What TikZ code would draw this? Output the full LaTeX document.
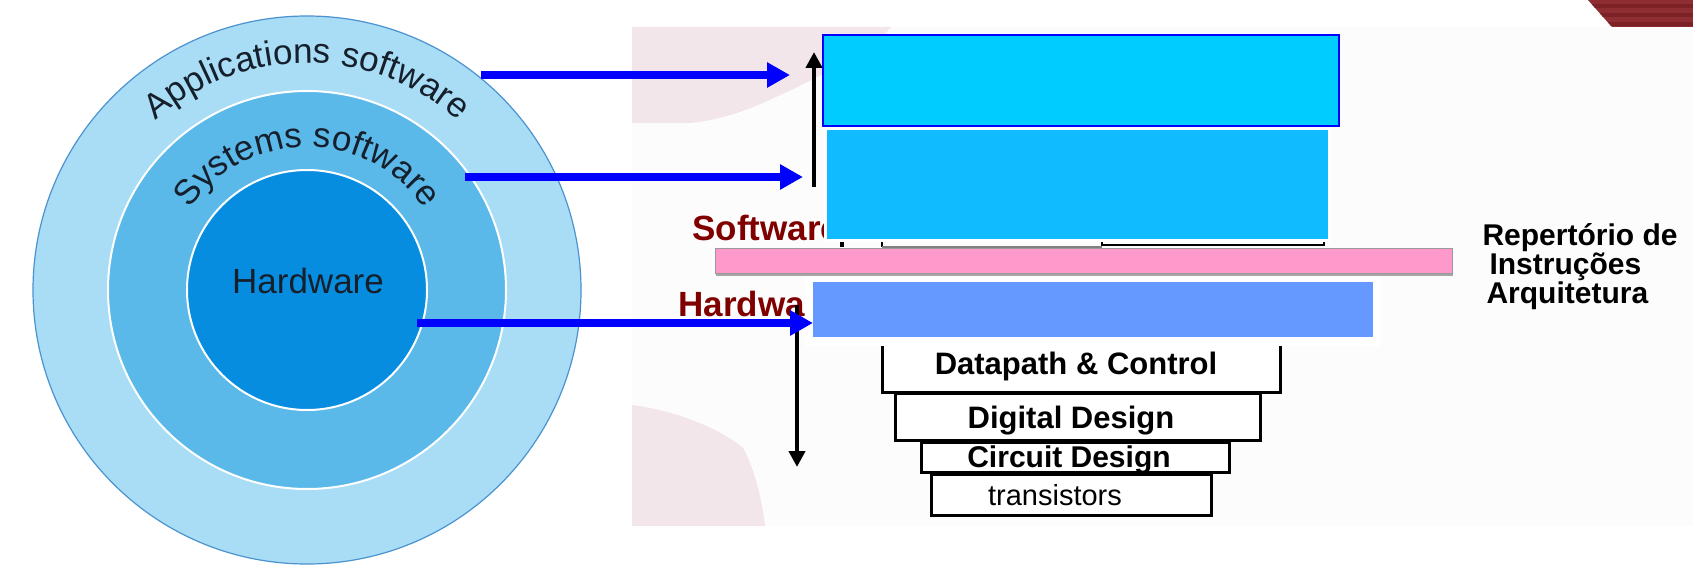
\documentclass[tikz,border=0pt]{standalone}
\usepackage{fontspec}
\setmainfont{Liberation Sans}
\usetikzlibrary{arrows.meta,decorations.text}
\newcommand\pxsize[1]{\fontsize{#1}{#1}\selectfont}

\definecolor{ringout}{HTML}{A9DDF6}
\definecolor{ringmid}{HTML}{5BB9EA}
\definecolor{ringin}{HTML}{078DE0}
\definecolor{ringedge}{HTML}{4A93CF}
\definecolor{ringtext}{HTML}{16202C}
\definecolor{appfill}{HTML}{00CCFF}
\definecolor{sysfill}{HTML}{10BBFF}
\definecolor{hwfill}{HTML}{6699FF}
\definecolor{isafill}{HTML}{FF99CC}
\definecolor{blobpink}{HTML}{F2E6EA}
\definecolor{panelbg}{HTML}{FCFCFC}
\definecolor{labelred}{HTML}{800000}
\definecolor{slidered}{HTML}{8E2E33}
\definecolor{slideredd}{HTML}{7C2227}

\tikzset{
  ring/.style={circle, inner sep=0pt, outer sep=0pt},
  plainbox/.style={rectangle, inner sep=0pt, outer sep=0pt},
  levelbox/.style={plainbox, draw=black, fill=white, line width=3pt},
  leveltext/.style={anchor=base, font=\bfseries\pxsize{31}},
  sidelabel/.style={anchor=base west, font=\bfseries\pxsize{35}, text=labelred},
  isatext/.style={anchor=base west, font=\bfseries\pxsize{30}},
  bluearrow/.style={draw=blue, line width=8pt, -{Triangle[length=23pt,width=24pt]}},
  blackarrow/.style={draw=black, line width=4pt, -{Triangle[length=16pt,width=16pt]}},
}

\begin{document}
\begin{tikzpicture}[x=1pt,y=-1pt]
\useasboundingbox (0,0) rectangle (1693,567);
\fill[white] (0,0) rectangle (1693,567);

% ---------- onion model ----------
\node[ring, minimum size=548pt, fill=ringout, draw=ringedge, line width=1.2pt] (outer) at (307,290) {};
\node[ring, minimum size=398pt, fill=ringmid, draw=white, line width=2pt] (middle) at (307,290) {};
\node[ring, minimum size=240pt, fill=ringin, draw=white, line width=2pt] (inner) at (307,290) {};

\path[decorate, decoration={text along path, text align=center, text color=ringtext,
    text={|\pxsize{35}|Applications software}}]
  (307,290) ++(180:227) arc[start angle=180, end angle=360, radius=227];
\path[decorate, decoration={text along path, text align=center, text color=ringtext,
    text={|\pxsize{35}|Systems software}}]
  (307,290) ++(180:143) arc[start angle=180, end angle=360, radius=143];
\node[anchor=base, font=\pxsize{35}, text=ringtext] (hwname) at (308,293) {Hardware};

% ---------- slide backdrop ----------
\fill[panelbg] (632,27) rectangle (1693,526);
\fill[blobpink] (632,27) -- (891,27) -- (884,35)
  .. controls (850,60) and (810,82) .. (780,95)
  .. controls (750,110) and (720,120) .. (690,123) -- (632,123) -- cycle;
\fill[blobpink] (632,405) .. controls (670,410) and (715,425) .. (743,448)
  .. controls (755,470) and (762,500) .. (765,526) -- (632,526) -- cycle;
\begin{scope}
  \clip (1588,0) -- (1693,0) -- (1693,27) -- (1612,27) -- cycle;
  \fill[slidered] (1580,0) rectangle (1693,27);
  \foreach \yy in {0,9,18} \fill[slideredd] (1580,\yy+4) rectangle (1693,\yy+8);
\end{scope}

% ---------- abstraction levels ----------
\node[levelbox, minimum width=280pt, minimum height=41pt] (trans) at (1071,494.5) {};
\node[levelbox, minimum width=308pt, minimum height=30pt] (circ) at (1075,457) {};
\node[levelbox, minimum width=365pt, minimum height=47pt] (digi) at (1077.5,416.5) {};
\node[levelbox, minimum width=398pt, minimum height=92pt] (dpath) at (1081,346) {};
\node[leveltext] (dpathtext) at (1076,374) {Datapath \& Control};
\node[leveltext] (digitext) at (1071,428) {Digital Design};
\node[leveltext, font=\bfseries\pxsize{30}] (circtext) at (1069,467) {Circuit Design};
\node[anchor=base, font=\pxsize{29}] (transtext) at (1055,505) {transistors};

% remnants of the layers under the software boxes
\fill[black] (840,242) rectangle (844,247);
\draw[black, line width=1.5pt] (882,242) -- (882,247);
\draw[gray, line width=1.5pt] (882,247) -- (1102,247);
\draw[black, line width=1.5pt] (1102,242) -- (1102,245) -- (1324,245) -- (1324,242);

% instruction set bar
\draw[gray!70, line width=1.5pt] (716,275) -- (1453,275);
\node[plainbox, minimum width=737pt, minimum height=25pt, fill=isafill, draw=gray!80, line width=1pt] (isa) at (1083.5,260.5) {};

% side labels
\node[sidelabel] (swlabel) at (689,240) {Software};
\node[sidelabel] (hwlabel) at (675,316) {Hardware};

% software / hardware boxes
\node[plainbox, minimum width=516pt, minimum height=91pt, fill=appfill, draw=blue, line width=2.5pt] (apps) at (1081,80.5) {};
\fill[white] (824,127.5) rectangle (1331,242);
\node[plainbox, minimum width=501pt, minimum height=109pt, fill=sysfill] (sys) at (1077.5,184.5) {};
\fill[white] (805,276) rectangle (1380,346);
\node[plainbox, minimum width=560pt, minimum height=55pt, fill=hwfill] (hwbox) at (1093,309.5) {};

% ISA caption
\node[isatext] (isa1) at (1479,245) {Repertório de};
\node[isatext] (isa2) at (1486,274) {Instruções};
\node[isatext] (isa3) at (1483,303) {Arquitetura};

% ---------- connectors ----------
\coordinate (upfrom) at (814,187);
\coordinate (upto) at (814,52);
\coordinate (downfrom) at (797,305);
\coordinate (downto) at (797,467);
\draw[blackarrow] (upfrom) -- (upto);
\draw[blackarrow] (downfrom) -- (downto);

\coordinate (appsrc) at (481,75);
\coordinate (apptip) at (790,75);
\coordinate (syssrc) at (465,177);
\coordinate (systip) at (803,177);
\coordinate (hwsrc) at (417,323);
\coordinate (hwtip) at (813,323);
\draw[bluearrow] (appsrc) -- (apptip);
\draw[bluearrow] (syssrc) -- (systip);
\draw[bluearrow] (hwsrc) -- (hwtip);
\end{tikzpicture}
\end{document}
